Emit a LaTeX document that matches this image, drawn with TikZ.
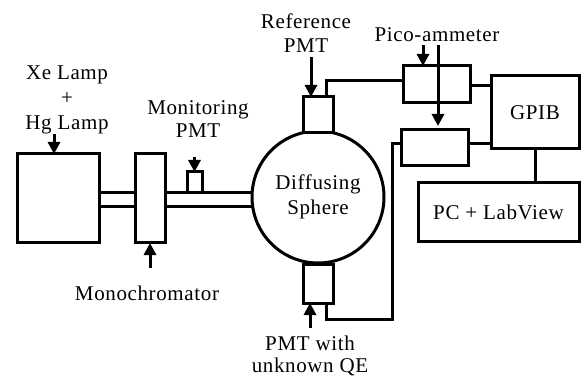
\documentclass[tikz,border=0pt]{standalone}
\usepackage{fontspec}
\setmainfont{Liberation Serif}[LetterSpace=3]
\usetikzlibrary{arrows.meta}
\begin{document}
\begin{tikzpicture}[x=1pt,y=-1pt,line width=3pt,
  box/.style={draw,fill=white,rectangle,inner sep=0pt,outer sep=0pt},
  lbl/.style={font=\fontsize{21}{24}\selectfont,align=center,inner sep=0pt},
  arr/.style={-{Triangle[width=12pt,length=12pt]}}]
\useasboundingbox (0,0) rectangle (581,382);
% coordinates for tube and wire levels
\coordinate (tubeT) at (0,193);
\coordinate (tubeB) at (0,207);
% main boxes
\node[box,minimum width=82pt,minimum height=89pt] (lamp) at (58,198.5) {};
\node[box,minimum width=30pt,minimum height=89pt] (mono) at (150,198.5) {};
\node[box,circle,minimum size=132pt,font=\fontsize{21}{25}\selectfont,align=center] (sphere) at (318,197) {Diffusing\\Sphere};
\node[box,minimum width=15pt,minimum height=21pt] (mon) at (194.5,182.5) {};
\node[box,minimum width=30pt,minimum height=36pt] (refpmt) at (318,115) {};
\node[box,minimum width=30pt,minimum height=39pt] (unkpmt) at (318,283.5) {};
\node[box,minimum width=67pt,minimum height=37pt] (pico1) at (436.5,84.5) {};
\node[box,minimum width=67pt,minimum height=36pt] (pico2) at (434.5,148) {};
\node[box,minimum width=88pt,minimum height=73pt,font=\fontsize{21}{24}\selectfont] (gpib) at (535,112.5) {GPIB};
\node[box,minimum width=161pt,minimum height=59pt,font=\fontsize{21}{24}\selectfont] (pc) at (498.5,212.5) {PC + LabView};
% tubes
\draw (lamp.east |- tubeT) -- (mono.west |- tubeT);
\draw (lamp.east |- tubeB) -- (mono.west |- tubeB);
\draw (mono.east |- tubeT) -- (tubeT -| sphere.west);
\draw (mono.east |- tubeB) -- (tubeB -| sphere.west);
% wires
\draw ([xshift=8pt]refpmt.north) |- (pico1.west |- 0,81);
\draw (pico1.east |- 0,86) -- (gpib.west |- 0,86);
\draw (pico2.east |- 0,144) -- (gpib.west |- 0,144);
\draw (pico2.west |- 0,144) -| (392,319) -| ([xshift=8pt]unkpmt.south);
\draw (gpib.south) -- (gpib.south |- pc.north);
% labels
\node[lbl,font=\fontsize{21}{25}\selectfont] (xelbl) at (67,100) {Xe Lamp\\+\\Hg Lamp};
\node[lbl] (monolbl) at (147,293) {Monochromator};
\node[lbl,font=\fontsize{21}{23}\selectfont] (monlbl) at (198,119) {Monitoring\\PMT};
\node[lbl] (reflbl) at (306,33) {Reference\\PMT};
\node[lbl] (picolbl) at (437,35) {Pico-ammeter};
\node[lbl,font=\fontsize{21}{22}\selectfont] (unklbl) at (310,356) {PMT with\\unknown QE};
% arrows
\draw[arr] (54,134) -- (54,0 |- lamp.north);
\draw[arr] (150,268) -- (mono.south);
\draw[arr] (mon.north |- 0,157) -- (mon.north);
\draw[arr] (311,57) -- (311,0 |- refpmt.north);
\draw[arr] (423,45) -- (423,0 |- pico1.north);
\draw[arr] (438,45) -- (438,126);
\draw[arr] (310,328) -- (310,0 |- unkpmt.south);
\end{tikzpicture}
\end{document}
